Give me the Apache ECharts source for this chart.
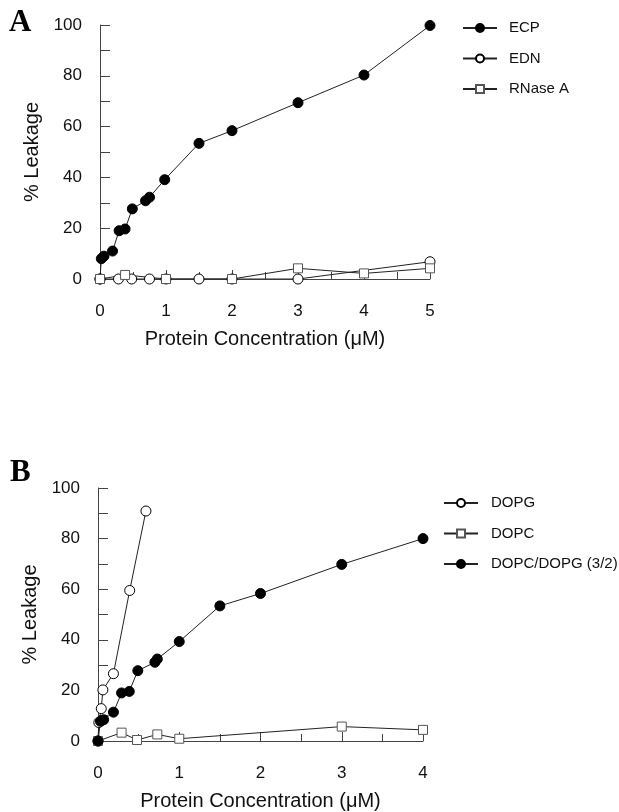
<!DOCTYPE html>
<html>
<head>
<meta charset="utf-8">
<script src="https://cdn.jsdelivr.net/npm/echarts@6/dist/echarts.min.js"></script>
<style>
html,body{margin:0;padding:0;background:#fff;}
#c{width:619px;height:812px;}
</style>
</head>
<body>
<div id="c"></div>
<script>
// Panel A data: [protein concentration (µM), % leakage]
var ecpA = [[0,0],[0.02,8],[0.06,9],[0.19,11],[0.29,19],[0.38,19.7],[0.49,27.6],[0.69,30.8],[0.75,32.2],[0.98,39.1],[1.5,53.4],[2,58.4],[3,69.4],[4,80.3],[5,99.8]];
var ednA = [[0,0],[0.28,0],[0.48,0],[0.75,0],[1,0],[1.5,0],[2,0],[3,0],[5,6.8]];
var rnaseA = [[0,0],[0.38,1.6],[1,0],[2,0],[3,4.2],[4,2.2],[5,4.2]];
// Panel B data
var dopgB = [[0,0],[0.01,7.3],[0.04,12.8],[0.06,20.2],[0.19,26.6],[0.39,59.5],[0.59,90.9]];
var dopcB = [[0,0],[0.29,3.3],[0.48,0.4],[0.73,2.6],[1,0.9],[3,5.7],[4,4.4]];
var mixB = [[0,0],[0.03,7.8],[0.07,8.4],[0.19,11.4],[0.29,19],[0.385,19.6],[0.49,27.8],[0.7,31.1],[0.73,32.4],[1,39.3],[1.5,53.4],[2,58.3],[3,69.8],[4,80]];

var namesA = ['ECP','EDN','RNase A'];
var namesB = ['DOPG','DOPC','DOPC/DOPG (3/2)'];
var yTicks = [0,20,40,60,80,100];
var xTitle = 'Protein Concentration (μM)';
var yTitle = '% Leakage';

var FONT = '"Liberation Sans", Arial, sans-serif';
var AX = '#444';

function xAxisDef(idx, max){
  return {
    type:'value', gridIndex:idx, min:0, max:max, interval:1,
    axisLine:{show:true, lineStyle:{color:AX, width:1}},
    axisTick:{show:true, inside:true, length:9, lineStyle:{color:AX}},
    minorTick:{show:true, splitNumber:2, length:7, lineStyle:{color:AX}},
    splitLine:{show:false},
    axisLabel:{color:'#111', fontFamily:FONT, fontSize:17, margin:24},
    name:xTitle, nameLocation:'middle', nameGap:50,
    nameTextStyle:{color:'#111', fontFamily:FONT, fontSize:20}
  };
}
function yAxisDef(idx){
  return {
    type:'value', gridIndex:idx, min:0, max:100, interval:20,
    axisLine:{show:true, lineStyle:{color:AX, width:1}},
    axisTick:{show:true, inside:true, length:10, lineStyle:{color:AX}},
    minorTick:{show:true, splitNumber:2, length:10, lineStyle:{color:AX}},
    splitLine:{show:false},
    axisLabel:{color:'#111', fontFamily:FONT, fontSize:17, margin:18,
      formatter:function(v){ return yTicks.indexOf(v) >= 0 ? String(v) : ''; }},
    name:yTitle, nameLocation:'middle', nameGap:46, nameRotate:90,
    nameTextStyle:{color:'#111', fontFamily:FONT, fontSize:20}
  };
}

var filled = {color:'#000', borderColor:'#000', borderWidth:1};
var openC = {color:'#fff', borderColor:'#000', borderWidth:1};
var openS = {color:'#fff', borderColor:'#555', borderWidth:1};
var lineS = {color:'#222', width:1};

function ser(name, data, xi, sym, size, style){
  return {
    type:'line', name:name, data:data, xAxisIndex:xi, yAxisIndex:xi,
    symbol:sym, symbolSize:size, showSymbol:true, animation:false,
    lineStyle:lineS, itemStyle:style, emphasis:{disabled:true}
  };
}

function legendDef(names, left, top, pad){
  return {
    data:names, orient:'vertical', left:left, top:top, padding:0,
    itemWidth:34, itemHeight:10, itemGap:15.5,
    textStyle:{color:'#111', fontFamily:FONT, fontSize:15, lineHeight:15, padding:[0,0,0,pad]},
    selectedMode:false
  };
}

var option = {
  backgroundColor:'#fff',
  animation:false,
  grid:[
    {left:100, top:25, width:330, height:254},
    {left:98, top:488, width:325, height:253}
  ],
  xAxis:[xAxisDef(0,5), xAxisDef(1,4)],
  yAxis:[yAxisDef(0), yAxisDef(1)],
  legend:[legendDef(namesA, 462, 20.5, 7), legendDef(namesB, 443, 495.5, 8)],
  series:[
    ser(namesA[0], ecpA, 0, 'circle', 10, filled),
    ser(namesA[1], ednA, 0, 'circle', 10, openC),
    ser(namesA[2], rnaseA, 0, 'rect', 9, openS),
    ser(namesB[0], dopgB, 1, 'circle', 10, openC),
    ser(namesB[1], dopcB, 1, 'rect', 9, openS),
    ser(namesB[2], mixB, 1, 'circle', 10, filled)
  ],
  graphic:[
    {type:'text', left:9, top:7, style:{text:'A', fill:'#000', font:'bold 31px "Liberation Serif", "Times New Roman", serif'}},
    {type:'text', left:10, top:457, style:{text:'B', fill:'#000', font:'bold 31px "Liberation Serif", "Times New Roman", serif'}}
  ]
};

var chart = echarts.init(document.getElementById('c'), null, {renderer:'canvas'});
chart.setOption(option);
</script>
</body>
</html>
